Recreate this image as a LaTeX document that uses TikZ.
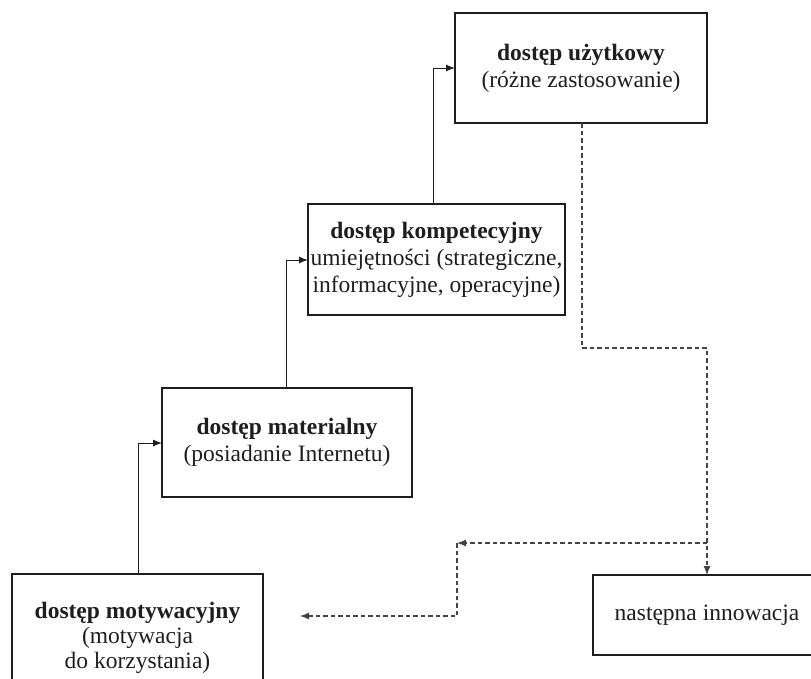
\documentclass[tikz,border=0pt]{standalone}
\usepackage{fontspec}
\setmainfont{Liberation Serif}
\usetikzlibrary{arrows.meta}
\definecolor{txt}{HTML}{1E1E1E}
\definecolor{dashc}{HTML}{444444}
\tikzset{
  box/.style={draw=txt, line width=2.8pt, rectangle, align=center, text=txt,
    font=\fontsize{23.5}{27}\selectfont, inner sep=0pt, outer sep=0pt},
  conn/.style={draw=txt, line width=1pt, -{Latex[length=9pt,width=7pt]}},
  dconn/.style={draw=dashc, line width=1.1pt, dash pattern=on 4.5pt off 3pt, -{Latex[length=9pt,width=7pt]}}
}
\begin{document}
\begin{tikzpicture}[x=1pt,y=-1pt]
\useasboundingbox (0,0) rectangle (811,678);
\clip (0,0) rectangle (811,678);
\node[box, minimum width=252pt, minimum height=110pt] (b1) at (581,68)
  {\textbf{dostęp użytkowy}\\(różne zastosowanie)};
\node[box, minimum width=257pt, minimum height=111pt] (b2) at (436.5,259.5)
  {\textbf{dostęp kompetecyjny}\\umiejętności (strategiczne,\\informacyjne, operacyjne)};
\node[box, minimum width=250pt, minimum height=109pt] (b3) at (287,442.5)
  {\textbf{dostęp materialny}\\(posiadanie Internetu)};
\node[box, minimum width=251pt, minimum height=128pt, font=\fontsize{23.5}{25}\selectfont] (b4) at (137.5,638)
  {\textbf{dostęp motywacyjny}\\(motywacja\\do korzystania)};
\node[box, minimum width=228pt, minimum height=80pt] (b5) at (707,615)
  {następna innowacja};
% solid connectors
\draw[conn] (b4.north -| 138,0) |- (b3.west |- 0,443);
\draw[conn] (b3.north -| 286,0) |- (b2.west |- 0,260);
\draw[conn] (b2.north -| 433,0) |- (b1.west |- 0,68);
% dashed connectors
\coordinate (d1) at (582,348);
\coordinate (j1) at (707,543);
\coordinate (j2) at (457,543);
\coordinate (e) at (300,616);
\draw[dconn] (b1.south -| 582,0) -- (d1) -| (b5.north -| 707,0);
\draw[dconn] (j1) -- (j2);
\draw[dconn] (j2) |- (e);
\end{tikzpicture}
\end{document}
